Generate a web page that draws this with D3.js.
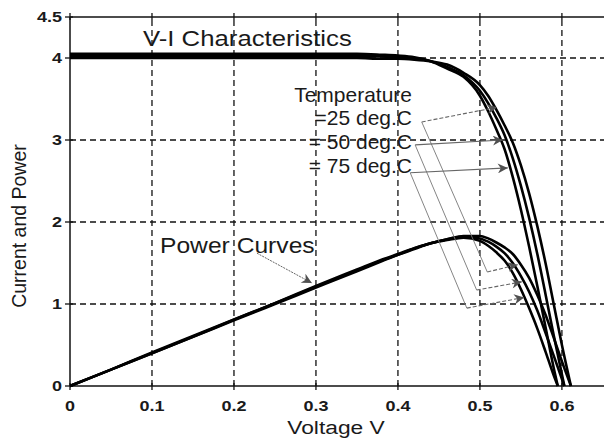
<!DOCTYPE html>
<html><head><meta charset="utf-8">
<script src="https://cdn.jsdelivr.net/npm/d3@7"></script>
<style>body{margin:0;background:#fff}svg{display:block}text{font-family:"Liberation Sans",Arial,sans-serif}</style>
</head><body><svg id="c" width="604" height="439"></svg>
<script>
// ---- data ----
const xTicks = [0, 0.1, 0.2, 0.3, 0.4, 0.5, 0.6];
const xTickLabels = ["0", "0.1", "0.2", "0.3", "0.4", "0.5", "0.6"];
const yTicks = [0, 1, 2, 3, 4, 4.5];
const yTickLabels = ["0", "1", "2", "3", "4", "4.5"];
const temperatures = ["=25 deg.C", "= 50 deg.C", "= 75 deg.C"];

const volt25 = [0,0.05,0.1,0.15,0.2,0.25,0.3,0.35,0.38,0.40,0.42,0.44,0.46,0.48,0.50,0.51,0.52,0.53,0.54,0.55,0.56,0.57,0.58,0.59,0.60,0.611];
const curr25 = [4.00,4.00,4.00,4.00,4.00,4.00,4.00,4.00,3.99,3.99,3.98,3.96,3.92,3.82,3.67,3.54,3.37,3.18,2.97,2.69,2.35,1.95,1.50,1.00,0.50,0];
const pow25  = [0,0.20,0.40,0.60,0.80,1.00,1.20,1.40,1.52,1.60,1.67,1.74,1.79,1.83,1.83,1.80,1.75,1.69,1.61,1.48,1.32,1.11,0.87,0.59,0.30,0];

const volt50 = [0,0.05,0.1,0.15,0.2,0.25,0.3,0.35,0.38,0.40,0.42,0.44,0.46,0.48,0.50,0.51,0.52,0.53,0.54,0.55,0.56,0.57,0.58,0.59,0.603];
const curr50 = [4.025,4.025,4.025,4.025,4.025,4.025,4.025,4.025,4.02,4.01,4.00,3.96,3.89,3.79,3.60,3.45,3.27,3.06,2.78,2.44,2.05,1.61,1.12,0.62,0];
const pow50  = [0,0.20,0.40,0.60,0.81,1.01,1.21,1.41,1.53,1.60,1.68,1.74,1.79,1.82,1.80,1.76,1.70,1.62,1.50,1.34,1.15,0.92,0.65,0.37,0];

const volt75 = [0,0.05,0.1,0.15,0.2,0.25,0.3,0.35,0.38,0.40,0.42,0.44,0.46,0.48,0.50,0.51,0.52,0.53,0.54,0.55,0.56,0.57,0.58,0.59,0.595];
const curr75 = [4.05,4.05,4.05,4.05,4.05,4.05,4.05,4.05,4.04,4.03,4.01,3.96,3.87,3.77,3.54,3.35,3.13,2.89,2.55,2.15,1.70,1.22,0.72,0.22,0];
const pow75  = [0,0.20,0.41,0.61,0.81,1.01,1.22,1.42,1.54,1.61,1.68,1.74,1.78,1.81,1.77,1.71,1.63,1.53,1.38,1.18,0.95,0.70,0.42,0.13,0];

// annotation anchors in data units [voltage, value]
const labelAnchors = [[0.429, 3.22], [0.421, 2.94], [0.415, 2.60]];
const viTips = [[0.521, 3.40], [0.528, 3.00], [0.534, 2.66]];
const bendPoints = [[0.509, 1.39], [0.496, 1.17], [0.484, 0.95]];
const powTips = [[0.546, 1.48], [0.551, 1.27], [0.554, 1.08]];
const powerArrow = [[0.228, 1.62], [0.295, 1.256]];

// ---- drawing ----
const svg = d3.select("#c");
const W = 604;
const x = d3.scaleLinear().domain([0, 0.655]).range([70, 607]);
const y = d3.scaleLinear().domain([0, 4.5]).range([386, 17]);

const defs = svg.append("defs");
defs.append("clipPath").attr("id","clip").append("rect")
  .attr("x", 70).attr("y", 10).attr("width", 540).attr("height", 380);
defs.append("marker").attr("id","ah").attr("viewBox","0 0 10 10")
  .attr("refX",10).attr("refY",5).attr("markerWidth",15).attr("markerHeight",10)
  .attr("markerUnits","userSpaceOnUse").attr("orient","auto")
  .append("path").attr("d","M0,0 L10,5 L0,10 L3,5 Z").attr("fill","#505050");

function txt(px, py, str, size, sx, anchor, weight) {
  return svg.append("text")
    .attr("transform", `translate(${px},${py}) scale(${sx},1)`)
    .attr("text-anchor", anchor || "start")
    .attr("font-size", size).attr("font-weight", weight || "normal")
    .attr("fill", "#1a1a1a").text(str);
}

// grid
const g = svg.append("g");
g.selectAll(".gx").data(xTicks.filter(d => d > 0)).join("line")
  .attr("x1", d => x(d)).attr("x2", d => x(d)).attr("y1", y(0)).attr("y2", y(4.5))
  .attr("stroke","#111").attr("stroke-width",1.3).attr("stroke-dasharray","6,4");
g.selectAll(".gy").data(yTicks.filter(d => d > 0 && d < 4.5)).join("line")
  .attr("x1", x(0)).attr("x2", W).attr("y1", d => y(d)).attr("y2", d => y(d))
  .attr("stroke","#111").attr("stroke-width",1.3).attr("stroke-dasharray","6,4");

// frame
svg.append("line").attr("x1",x(0)).attr("x2",W).attr("y1",y(4.5)).attr("y2",y(4.5)).attr("stroke","#111").attr("stroke-width",1.5);
svg.append("line").attr("x1",x(0)).attr("x2",W).attr("y1",y(0)).attr("y2",y(0)).attr("stroke","#111").attr("stroke-width",1.5);
svg.append("line").attr("x1",x(0)).attr("x2",x(0)).attr("y1",y(0)).attr("y2",y(4.5)).attr("stroke","#111").attr("stroke-width",1.5);

// ticks
svg.selectAll(".tx").data(xTicks).join("line")
  .attr("x1", d=>x(d)).attr("x2", d=>x(d)).attr("y1", y(0)-3).attr("y2", y(0)+4).attr("stroke","#111").attr("stroke-width",1.3);
svg.selectAll(".tt").data(xTicks).join("line")
  .attr("x1", d=>x(d)).attr("x2", d=>x(d)).attr("y1", y(4.5)-4).attr("y2", y(4.5)+3).attr("stroke","#111").attr("stroke-width",1.3);
svg.selectAll(".ty").data(yTicks).join("line")
  .attr("x1", x(0)-5).attr("x2", x(0)+3).attr("y1", d=>y(d)).attr("y2", d=>y(d)).attr("stroke","#111").attr("stroke-width",1.3);

xTicks.forEach((d,i) => txt(x(d), y(0)+25, xTickLabels[i], 15, 1.2, "middle", "bold"));
yTicks.forEach((d,i) => txt(x(0)-8, y(d)+5, yTickLabels[i], 15, 1.2, "end", "bold"));

txt(336, 434, "Voltage V", 19, 1.2, "middle");
svg.append("text").attr("transform",`translate(26,226) rotate(-90)`).attr("text-anchor","middle")
  .attr("font-size",19.5).attr("fill","#1a1a1a").text("Current and Power");

// text annotations
txt(143, 46, "V-I Characteristics", 22, 1.17);
txt(160, 253, "Power Curves", 22, 1.12);
txt(412, 102, "Temperature", 20, 1.05, "end");
temperatures.forEach((d,i) => txt(412, 125 + i*24, d, 20, 1.05, "end"));

// curves
const line = d3.line().x(d=>x(d[0])).y(d=>y(d[1])).curve(d3.curveMonotoneX);
const series = [
  [volt25, curr25], [volt50, curr50], [volt75, curr75],
  [volt25, pow25], [volt50, pow50], [volt75, pow75]
];
const cg = svg.append("g").attr("clip-path","url(#clip)");
series.forEach(([vs, vals]) => {
  cg.append("path").datum(vs.map((v,i)=>[v, vals[i]]))
    .attr("d", line).attr("fill","none").attr("stroke","#000").attr("stroke-width",2.6);
});

// arrows
const ag = svg.append("g");
labelAnchors.forEach((a,i) => {
  ag.append("line").attr("x1",x(a[0])).attr("y1",y(a[1])).attr("x2",x(viTips[i][0])).attr("y2",y(viTips[i][1]))
    .attr("stroke","#666").attr("stroke-width",1.1).attr("stroke-dasharray", i===0 ? "4,2" : null).attr("marker-end","url(#ah)");
  ag.append("polyline").attr("points",[a, bendPoints[i]].map(p=>[x(p[0]),y(p[1])].join(",")).join(" "))
    .attr("fill","none").attr("stroke","#777").attr("stroke-width",0.9);
  ag.append("line").attr("x1",x(bendPoints[i][0])).attr("y1",y(bendPoints[i][1])).attr("x2",x(powTips[i][0])).attr("y2",y(powTips[i][1]))
    .attr("stroke","#666").attr("stroke-width",1.1).attr("stroke-dasharray","4,2").attr("marker-end","url(#ah)");
});
ag.append("line").attr("x1",x(powerArrow[0][0])).attr("y1",y(powerArrow[0][1])).attr("x2",x(powerArrow[1][0])).attr("y2",y(powerArrow[1][1]))
  .attr("stroke","#666").attr("stroke-width",1).attr("stroke-dasharray","2,1").attr("marker-end","url(#ah)");
</script></body></html>
